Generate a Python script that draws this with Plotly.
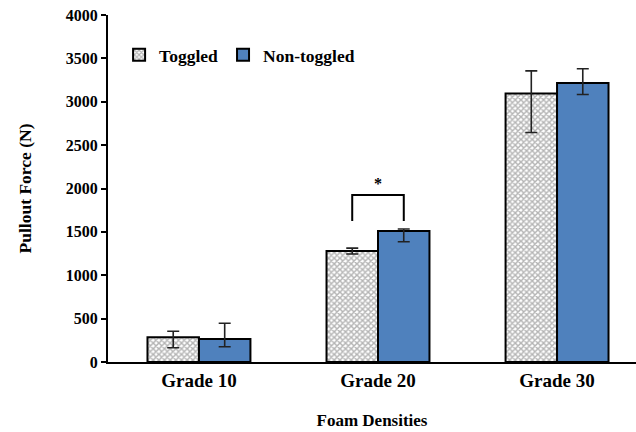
import plotly.graph_objects as go

categories = ["Grade 10", "Grade 20", "Grade 30"]
toggled = [285, 1280, 3095]
toggled_err_plus = [69, 33, 261]
toggled_err_minus = [120, 35, 449]
non_toggled = [265, 1510, 3215]
non_toggled_err_plus = [181, 23, 165]
non_toggled_err_minus = [89, 123, 131]
y_ticks = [0, 500, 1000, 1500, 2000, 2500, 3000, 3500, 4000]
sig_bracket_x = [0.856, 0.856, 1.144, 1.144]
sig_bracket_y = [1625, 1925, 1925, 1625]
sig_star = (1.0, 2060, "*")

FONT = "Liberation Serif"

fig = go.Figure()
fig.add_trace(go.Bar(
    name="Toggled", x=[0, 1, 2], y=toggled,
    marker=dict(color="white", line=dict(color="black", width=2),
                pattern=dict(shape="x", size=4, solidity=0.6, fgcolor="#6a6a6a", bgcolor="#ffffff")),
    error_y=dict(type="data", symmetric=False, array=toggled_err_plus, arrayminus=toggled_err_minus,
                 color="#222222", thickness=1.6, width=6),
))
fig.add_trace(go.Bar(
    name="Non-toggled", x=[0, 1, 2], y=non_toggled,
    marker=dict(color="#4F81BD", line=dict(color="black", width=2)),
    error_y=dict(type="data", symmetric=False, array=non_toggled_err_plus, arrayminus=non_toggled_err_minus,
                 color="#222222", thickness=1.6, width=6),
))
fig.add_trace(go.Scatter(x=sig_bracket_x, y=sig_bracket_y, mode="lines",
                         line=dict(color="black", width=2), showlegend=False, hoverinfo="skip"))
fig.add_annotation(x=sig_star[0], y=sig_star[1], text=sig_star[2], showarrow=False,
                   font=dict(family=FONT, size=16, color="black", weight="bold"))

fig.update_layout(
    width=636, height=432,
    margin=dict(l=108, r=0, t=15, b=70),
    plot_bgcolor="white", paper_bgcolor="white",
    barmode="group", bargap=0.425, bargroupgap=0,
    font=dict(family=FONT, color="black", weight="bold"),
    legend=dict(orientation="h", x=0.021, y=0.885, yanchor="middle", xanchor="left",
                font=dict(family=FONT, size=17.5, weight="bold"), bgcolor="rgba(0,0,0,0)",
                itemwidth=30, tracegroupgap=0),
    xaxis=dict(range=[-0.508, 2.441], tickmode="array", tickvals=[0, 1, 2], ticktext=categories,
               showline=True, linecolor="black", linewidth=2, ticks="", showgrid=False, zeroline=False,
               tickfont=dict(family=FONT, size=19, weight="bold"),
               title=dict(text="Foam Densities", font=dict(family=FONT, size=17, weight="bold"), standoff=24)),
    yaxis=dict(range=[0, 4000], tickmode="array", tickvals=y_ticks,
               showline=True, linecolor="black", linewidth=2, ticks="outside", ticklen=5, tickwidth=2,
               tickcolor="black", showgrid=False, zeroline=False,
               tickfont=dict(family=FONT, size=16, weight="bold"),
               title=dict(text="Pullout Force (N)", font=dict(family=FONT, size=17.5, weight="bold"), standoff=30)),
)

fig.write_html("out.html", config={"displayModeBar": False},
               post_script="document.body.style.margin='0';document.body.style.overflow='hidden';")
